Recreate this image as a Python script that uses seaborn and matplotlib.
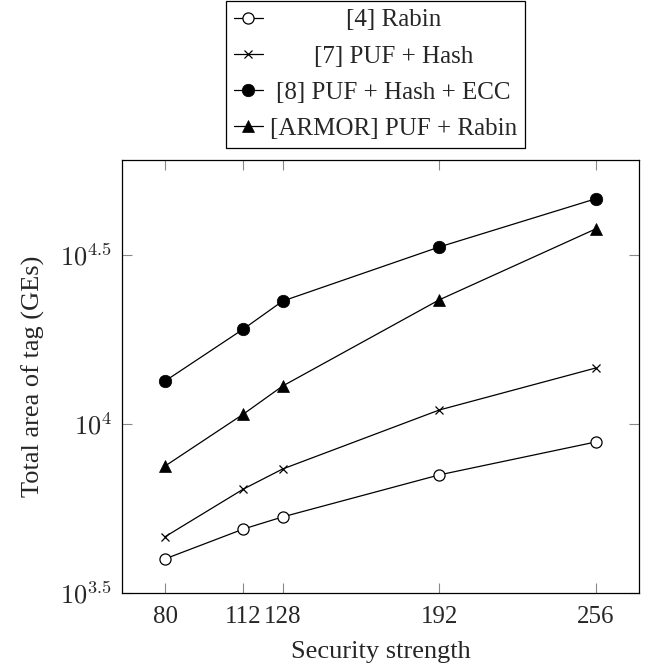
import numpy as np
import pandas as pd
import matplotlib
matplotlib.use('Agg')
import matplotlib.pyplot as plt
import seaborn as sns
from matplotlib.ticker import NullLocator

# security strength (bits) and total tag area (GEs)
strength = [80, 112, 128, 192, 256]
rabin = [3990, 4890, 5310, 7070, 8850]
puf_hash = [4640, 6420, 7360, 11000, 14650]
puf_hash_ecc = [13400, 19100, 23100, 33400, 46400]
armor = [7510, 10700, 12950, 23300, 37800]

labels = ['[4] Rabin', '[7] PUF + Hash', '[8] PUF + Hash + ECC', '[ARMOR] PUF + Rabin']
ytick_vals = [10**3.5, 10**4, 10**4.5]
ytick_labels = [r'$10^{3.5}$', r'$10^{4}$', r'$10^{4.5}$']

sns.set_theme(style='ticks')
plt.rcParams['font.family'] = ['Liberation Serif', 'DejaVu Serif']
plt.rcParams['mathtext.fontset'] = 'cm'

fig = plt.figure(figsize=(6.5, 6.69), dpi=100)
ax = fig.add_axes([0.1877, 0.1136, 0.9831 - 0.1877, 0.7608 - 0.1136])

styles = [
    dict(marker='o', markersize=8, markerfacecolor='white', markeredgewidth=0.9),
    dict(marker='x', markersize=6, markeredgewidth=0.9),
    dict(marker='o', markersize=9, markerfacecolor='black', markeredgewidth=0.5),
    dict(marker='^', markersize=9, markerfacecolor='black', markeredgewidth=0.5),
]
series = [rabin, puf_hash, puf_hash_ecc, armor]

for vals, lab, st in zip(series, labels, styles):
    df = pd.DataFrame({'strength': strength, 'area': vals})
    sns.lineplot(data=df, x='strength', y='area', ax=ax, color='black',
                 linewidth=0.9, markeredgecolor='black', label=lab, **st)

ax.set_yscale('log')
ax.set_xlim(62.4, 273.6)
ax.set_ylim(10**3.5, 10**4.781)
ax.set_xticks(strength)
ax.set_xticklabels([str(s) for s in strength])
ax.set_yticks(ytick_vals)
ax.set_yticklabels(ytick_labels)
ax.yaxis.set_minor_locator(NullLocator())
ax.xaxis.set_minor_locator(NullLocator())

ax.tick_params(direction='in', top=True, right=True, color='#888888',
               length=7, width=0.8)
ax.tick_params(axis='x', pad=9, labelsize=18)
ax.tick_params(axis='y', pad=7, labelsize=19)
for sp in ax.spines.values():
    sp.set_linewidth(0.9)
    sp.set_color('black')

ax.set_xlabel('Security strength', fontsize=19, labelpad=10)
ax.set_ylabel('Total area of tag (GEs)', fontsize=19, labelpad=11)

handles, labs = ax.get_legend_handles_labels()
ax.get_legend().remove()
leg = fig.legend(handles, labs, loc='upper center', bbox_to_anchor=(0.5777, 0.999),
                 bbox_transform=fig.transFigure, fontsize=18, frameon=True,
                 fancybox=False, edgecolor='black', framealpha=1,
                 handlelength=1.15, handletextpad=0.3, labelspacing=0.55,
                 borderpad=0.33, borderaxespad=0)
leg.get_frame().set_linewidth(0.9)

# centre the legend texts in their column, like the pgfplots legend
fig.canvas.draw()
r = fig.canvas.get_renderer()
widths = [t.get_window_extent(r).width for t in leg.get_texts()]
wmax = max(widths)
for t, w in zip(leg.get_texts(), widths):
    t.set_x((wmax - w) / 2)

fig.savefig('out.png', dpi=100)
